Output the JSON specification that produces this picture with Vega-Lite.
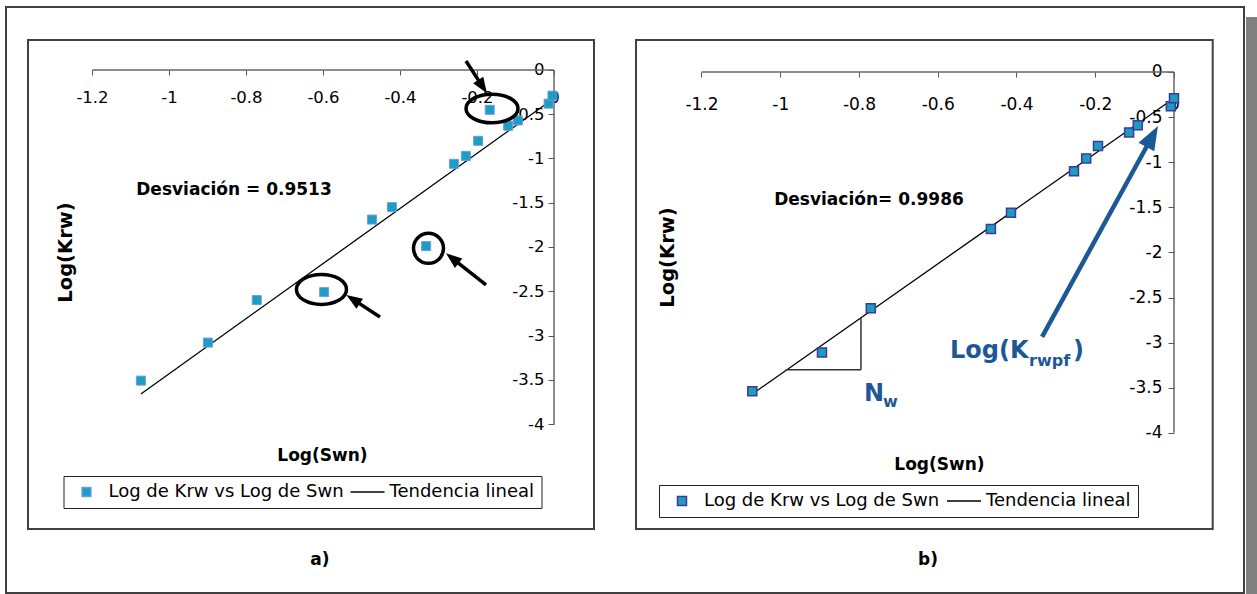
{
  "$schema": "https://vega.github.io/schema/vega-lite/v6.json",
  "width": 1238,
  "height": 586,
  "autosize": {"type": "none"},
  "padding": {"left": 6, "top": 7, "right": 13, "bottom": 1},
  "background": "white",
  "config": {
    "font": "DejaVu Sans",
    "view": {"stroke": "#404040", "strokeWidth": 2},
    "axis": {"grid": false, "domain": false, "labelFont": "DejaVu Sans", "titleFont": "DejaVu Sans", "labelColor": "#000", "titleColor": "#000", "tickColor": "#555"}
  },
  "datasets": {
    "pa": [
      {"x": -1.073, "y": -3.51, "s": "Log de Krw vs Log de Swn"},
      {"x": -0.899, "y": -3.08, "s": "Log de Krw vs Log de Swn"},
      {"x": -0.772, "y": -2.6, "s": "Log de Krw vs Log de Swn"},
      {"x": -0.597, "y": -2.51, "s": "Log de Krw vs Log de Swn"},
      {"x": -0.473, "y": -1.69, "s": "Log de Krw vs Log de Swn"},
      {"x": -0.421, "y": -1.55, "s": "Log de Krw vs Log de Swn"},
      {"x": -0.332, "y": -1.99, "s": "Log de Krw vs Log de Swn"},
      {"x": -0.26, "y": -1.06, "s": "Log de Krw vs Log de Swn"},
      {"x": -0.229, "y": -0.97, "s": "Log de Krw vs Log de Swn"},
      {"x": -0.197, "y": -0.8, "s": "Log de Krw vs Log de Swn"},
      {"x": -0.167, "y": -0.45, "s": "Log de Krw vs Log de Swn"},
      {"x": -0.119, "y": -0.63, "s": "Log de Krw vs Log de Swn"},
      {"x": -0.094, "y": -0.57, "s": "Log de Krw vs Log de Swn"},
      {"x": -0.014, "y": -0.38, "s": "Log de Krw vs Log de Swn"},
      {"x": -0.004, "y": -0.29, "s": "Log de Krw vs Log de Swn"}
    ],
    "pb": [
      {"x": -1.071, "y": -3.54, "s": "Log de Krw vs Log de Swn"},
      {"x": -0.894, "y": -3.11, "s": "Log de Krw vs Log de Swn"},
      {"x": -0.77, "y": -2.62, "s": "Log de Krw vs Log de Swn"},
      {"x": -0.465, "y": -1.74, "s": "Log de Krw vs Log de Swn"},
      {"x": -0.414, "y": -1.56, "s": "Log de Krw vs Log de Swn"},
      {"x": -0.254, "y": -1.1, "s": "Log de Krw vs Log de Swn"},
      {"x": -0.223, "y": -0.96, "s": "Log de Krw vs Log de Swn"},
      {"x": -0.193, "y": -0.82, "s": "Log de Krw vs Log de Swn"},
      {"x": -0.114, "y": -0.67, "s": "Log de Krw vs Log de Swn"},
      {"x": -0.092, "y": -0.59, "s": "Log de Krw vs Log de Swn"},
      {"x": -0.008, "y": -0.38, "s": "Log de Krw vs Log de Swn"},
      {"x": 0.0, "y": -0.29, "s": "Log de Krw vs Log de Swn"}
    ]
  },
  "layer": [
    {
      "encoding": {
        "x": {"field": "x", "type": "quantitative",
          "scale": {"domain": [-1.42338, 1.79221], "nice": false, "zero": false},
          "axis": {"orient": "bottom", "offset": -523, "values": [-1.2, -1, -0.8, -0.6, -0.4, -0.2, 0],
            "tickSize": 5, "labelPadding": 14, "labelFontSize": 16.5, "labelFlush": false, "labelOverlap": false,
            "labelExpr": "datum.value < 0 ? '-' + format(-datum.value, '') : '0'",
            "title": "Log(Swn)", "titleX": 316, "titleY": 385, "titleAlign": "center", "titleBaseline": "middle",
            "titleAngle": 0, "titleFontSize": 17, "titleFontWeight": "bold"}},
        "y": {"field": "y", "type": "quantitative",
          "scale": {"domain": [-5.9096, 0.71186], "nice": false, "zero": false},
          "axis": {"orient": "left", "offset": -548, "values": [0, -0.5, -1, -1.5, -2, -2.5, -3, -3.5, -4],
            "tickSize": 6, "labelPadding": 4, "labelFontSize": 16.5, "labelFlush": false, "labelOverlap": false,
            "labelExpr": "datum.value < 0 ? '-' + format(-datum.value, '') : '0'",
            "title": "Log(Krw)", "titleX": -489, "titleY": 245, "titleAlign": "center", "titleBaseline": "middle",
            "titleAngle": -90, "titleFontSize": 19.5, "titleFontWeight": "bold"}}
      },
      "layer": [
        {"data": {"values": [{"x": -1.3662, "y": 0.339, "x2": 0.1039, "y2": -5.1864}]},
         "mark": {"type": "rect", "filled": false, "stroke": "#404040", "strokeWidth": 2},
         "encoding": {"x2": {"field": "x2"}, "y2": {"field": "y2"}}},
        {"data": {"values": [{"x": -1.2, "y": 0, "x2": 0, "y2": 0}, {"x": 0, "y": 0, "x2": 0, "y2": -4}]},
         "mark": {"type": "rule", "color": "#666", "strokeWidth": 1.5},
         "encoding": {"x2": {"field": "x2"}, "y2": {"field": "y2"}}},
        {"data": {"values": [{"x": -1.073, "y": -3.66, "x2": 0, "y2": -0.32}]},
         "mark": {"type": "rule", "color": "#000", "strokeWidth": 1.3},
         "encoding": {"x2": {"field": "x2"}, "y2": {"field": "y2"}}},
        {"data": {"name": "pa"},
         "mark": {"type": "point", "filled": true, "size": 81, "strokeWidth": 1, "opacity": 1},
         "encoding": {
           "fill": {"field": "s", "type": "nominal", "scale": {"domain": ["Log de Krw vs Log de Swn", "Tendencia lineal"], "range": ["#1E9CC8", "transparent"]},
             "legend": {"title": null, "orient": "none", "legendX": 57.5, "legendY": 469, "direction": "horizontal", "strokeColor": "#222", "fillColor": "white", "padding": 7, "labelFont": "DejaVu Sans", "labelFontSize": 18, "labelColor": "#000", "labelLimit": 400, "symbolSize": 81, "symbolStrokeWidth": 1.3, "labelOffset": 13, "columnPadding": 3, "symbolOffset": 7}},
           "stroke": {"field": "s", "type": "nominal", "scale": {"domain": ["Log de Krw vs Log de Swn", "Tendencia lineal"], "range": ["#6A9FDB", "#000000"]},
             "legend": {"title": null, "orient": "none", "legendX": 57.5, "legendY": 469, "direction": "horizontal", "strokeColor": "#222", "fillColor": "white", "padding": 7, "labelFont": "DejaVu Sans", "labelFontSize": 18, "labelColor": "#000", "labelLimit": 400, "symbolSize": 81, "symbolStrokeWidth": 1.3, "labelOffset": 13, "columnPadding": 3, "symbolOffset": 7}},
           "shape": {"field": "s", "type": "nominal", "scale": {"domain": ["Log de Krw vs Log de Swn", "Tendencia lineal"], "range": ["square", "M-3.78,0L3.78,0"]},
             "legend": {"title": null, "orient": "none", "legendX": 57.5, "legendY": 469, "direction": "horizontal", "strokeColor": "#222", "fillColor": "white", "padding": 7, "labelFont": "DejaVu Sans", "labelFontSize": 18, "labelColor": "#000", "labelLimit": 400, "symbolSize": 81, "symbolStrokeWidth": 1.3, "labelOffset": 13, "columnPadding": 3, "symbolOffset": 7}}
         }},
        {"data": {"values": [{"x": -0.161, "y": -0.435}]},
         "mark": {"type": "point", "filled": false, "shape": "M-1,0A1,0.55,0,1,0,1,0A1,0.55,0,1,0,-1,0Z", "size": 2704, "stroke": "#000", "strokeWidth": 3.5, "opacity": 1}},
        {"data": {"values": [{"x": -0.326, "y": -2.015}]},
         "mark": {"type": "point", "filled": false, "shape": "M-1,0A1,1,0,1,0,1,0A1,1,0,1,0,-1,0Z", "size": 900, "stroke": "#000", "strokeWidth": 3.5, "opacity": 1}},
        {"data": {"values": [{"x": -0.604, "y": -2.48}]},
         "mark": {"type": "point", "filled": false, "shape": "M-1,0A1,0.6,0,1,0,1,0A1,0.6,0,1,0,-1,0Z", "size": 2500, "stroke": "#000", "strokeWidth": 3.5, "opacity": 1}},
        {"data": {"values": [
           {"x": -0.2286, "y": 0.102, "x2": -0.1855, "y2": -0.1876},
           {"x": -0.1766, "y": -2.429, "x2": -0.264, "y2": -2.128},
           {"x": -0.452, "y": -2.791, "x2": -0.522, "y2": -2.592}]},
         "mark": {"type": "rule", "color": "#000", "strokeWidth": 3.5},
         "encoding": {"x2": {"field": "x2"}, "y2": {"field": "y2"}}},
        {"data": {"values": [{"x": -0.1855, "y": -0.1876}]},
         "mark": {"type": "point", "filled": true, "shape": "M0,-1L0.75,1L-0.75,1Z", "size": 256, "angle": 147, "color": "#000", "opacity": 1}},
        {"data": {"values": [{"x": -0.264, "y": -2.128}]},
         "mark": {"type": "point", "filled": true, "shape": "M0,-1L0.75,1L-0.75,1Z", "size": 256, "angle": 308.4, "color": "#000", "opacity": 1}},
        {"data": {"values": [{"x": -0.522, "y": -2.592}]},
         "mark": {"type": "point", "filled": true, "shape": "M0,-1L0.75,1L-0.75,1Z", "size": 256, "angle": 303.3, "color": "#000", "opacity": 1}},
        {"data": {"values": [{"x": -0.8312, "y": -1.356, "t": "Desviación = 0.9513"}, {"x": -0.6078, "y": -5.537, "t": "a)"}]},
         "mark": {"type": "text", "fontSize": 17, "fontWeight": "bold", "align": "center", "baseline": "middle", "color": "#000"},
         "encoding": {"text": {"field": "t"}}}
      ]
    },
    {
      "encoding": {
        "x": {"field": "x", "type": "quantitative",
          "scale": {"domain": [-2.96635, 0.17778], "nice": false, "zero": false},
          "axis": {"orient": "bottom", "offset": -521, "values": [-1.2, -1, -0.8, -0.6, -0.4, -0.2, 0],
            "tickSize": 5, "labelPadding": 19, "labelFontSize": 17, "labelFlush": false, "labelOverlap": false,
            "labelExpr": "datum.value < 0 ? '-' + format(-datum.value, '') : '0'",
            "title": "Log(Swn)", "titleX": 933, "titleY": 392, "titleAlign": "center", "titleBaseline": "middle",
            "titleAngle": 0, "titleFontSize": 17, "titleFontWeight": "bold"}},
        "y": {"field": "y", "type": "quantitative",
          "scale": {"domain": [-5.77605, 0.72062], "nice": false, "zero": false},
          "axis": {"orient": "left", "offset": -1168, "values": [0, -0.5, -1, -1.5, -2, -2.5, -3, -3.5, -4],
            "tickSize": 6, "labelPadding": 6, "labelFontSize": 17, "labelFlush": false, "labelOverlap": false,
            "labelExpr": "datum.value < 0 ? '-' + format(-datum.value, '') : '0'",
            "title": "Log(Krw)", "titleX": -507, "titleY": 250, "titleAlign": "center", "titleBaseline": "middle",
            "titleAngle": -90, "titleFontSize": 19.5, "titleFontWeight": "bold"}}
      },
      "layer": [
        {"data": {"values": [{"x": 0.18286, "y": 0.6098, "x2": 0.215, "y2": -5.8}]},
         "mark": {"type": "rect", "color": "#808080"},
         "encoding": {"x2": {"field": "x2"}, "y2": {"field": "y2"}}},
        {"data": {"values": [{"x": -1.3663, "y": 0.3548, "x2": 0.0983, "y2": -5.0665}]},
         "mark": {"type": "rect", "filled": false, "stroke": "#404040", "strokeWidth": 2},
         "encoding": {"x2": {"field": "x2"}, "y2": {"field": "y2"}}},
        {"data": {"values": [{"x": -1.2, "y": 0, "x2": 0, "y2": 0}, {"x": 0, "y": 0, "x2": 0, "y2": -4}]},
         "mark": {"type": "rule", "color": "#666", "strokeWidth": 1.5},
         "encoding": {"x2": {"field": "x2"}, "y2": {"field": "y2"}}},
        {"data": {"values": [{"x": -1.071, "y": -3.57, "x2": 0, "y2": -0.29}]},
         "mark": {"type": "rule", "color": "#000", "strokeWidth": 1.3},
         "encoding": {"x2": {"field": "x2"}, "y2": {"field": "y2"}}},
        {"data": {"values": [{"x": -0.986, "y": -3.3, "x2": -0.795, "y2": -3.3}, {"x": -0.795, "y": -3.3, "x2": -0.795, "y2": -2.72}]},
         "mark": {"type": "rule", "color": "#333", "strokeWidth": 1.5},
         "encoding": {"x2": {"field": "x2"}, "y2": {"field": "y2"}}},
        {"data": {"name": "pb"},
         "mark": {"type": "point", "filled": true, "size": 81, "strokeWidth": 1.5, "opacity": 1},
         "encoding": {
           "fill": {"field": "s", "type": "nominal", "scale": {"domain": ["Log de Krw vs Log de Swn", "Tendencia lineal"], "range": ["#1E9CC0", "transparent"]},
             "legend": {"title": null, "orient": "none", "legendX": 653, "legendY": 478, "direction": "horizontal", "strokeColor": "#222", "fillColor": "white", "padding": 7, "labelFont": "DejaVu Sans", "labelFontSize": 18, "labelColor": "#000", "labelLimit": 400, "symbolSize": 81, "symbolStrokeWidth": 1.5, "labelOffset": 13, "columnPadding": 3, "symbolOffset": 7}},
           "stroke": {"field": "s", "type": "nominal", "scale": {"domain": ["Log de Krw vs Log de Swn", "Tendencia lineal"], "range": ["#3B3B9E", "#000000"]},
             "legend": {"title": null, "orient": "none", "legendX": 653, "legendY": 478, "direction": "horizontal", "strokeColor": "#222", "fillColor": "white", "padding": 7, "labelFont": "DejaVu Sans", "labelFontSize": 18, "labelColor": "#000", "labelLimit": 400, "symbolSize": 81, "symbolStrokeWidth": 1.5, "labelOffset": 13, "columnPadding": 3, "symbolOffset": 7}},
           "shape": {"field": "s", "type": "nominal", "scale": {"domain": ["Log de Krw vs Log de Swn", "Tendencia lineal"], "range": ["square", "M-3.78,0L3.78,0"]},
             "legend": {"title": null, "orient": "none", "legendX": 653, "legendY": 478, "direction": "horizontal", "strokeColor": "#222", "fillColor": "white", "padding": 7, "labelFont": "DejaVu Sans", "labelFontSize": 18, "labelColor": "#000", "labelLimit": 400, "symbolSize": 81, "symbolStrokeWidth": 1.5, "labelOffset": 13, "columnPadding": 3, "symbolOffset": 7}}
         }},
        {"data": {"values": [{"x": -0.335, "y": -2.936, "x2": -0.0554, "y2": -0.715}]},
         "mark": {"type": "rule", "color": "#1D5896", "strokeWidth": 4.5},
         "encoding": {"x2": {"field": "x2"}, "y2": {"field": "y2"}}},
        {"data": {"values": [{"x": -0.0554, "y": -0.715}]},
         "mark": {"type": "point", "filled": true, "shape": "M0,-1L0.75,1L-0.75,1Z", "size": 576, "angle": 28.8, "color": "#1D5896", "opacity": 1}},
        {"data": {"values": [{"x": -0.569, "y": -3.169, "t": "Log(K"}, {"x": -0.2565, "y": -3.169, "t": ")"}, {"x": -0.787, "y": -3.642, "t": "N"}]},
         "mark": {"type": "text", "fontSize": 24, "fontWeight": "bold", "align": "left", "baseline": "alphabetic", "color": "#1D5896"},
         "encoding": {"text": {"field": "t"}}},
        {"data": {"values": [{"x": -0.368, "y": -3.258, "t": "rwpf"}, {"x": -0.739, "y": -3.712, "t": "w"}]},
         "mark": {"type": "text", "fontSize": 16, "fontWeight": "bold", "align": "left", "baseline": "alphabetic", "color": "#1D5896"},
         "encoding": {"text": {"field": "t"}}},
        {"data": {"values": [{"x": -0.7746, "y": -1.424, "t": "Desviación= 0.9986"}, {"x": -0.6248, "y": -5.41, "t": "b)"}]},
         "mark": {"type": "text", "fontSize": 17, "fontWeight": "bold", "align": "center", "baseline": "middle", "color": "#000"},
         "encoding": {"text": {"field": "t"}}}
      ]
    }
  ],
  "resolve": {
    "scale": {"x": "independent", "y": "independent", "fill": "independent", "stroke": "independent", "shape": "independent"},
    "axis": {"x": "independent", "y": "independent"},
    "legend": {"fill": "independent", "stroke": "independent", "shape": "independent"}
  }
}
